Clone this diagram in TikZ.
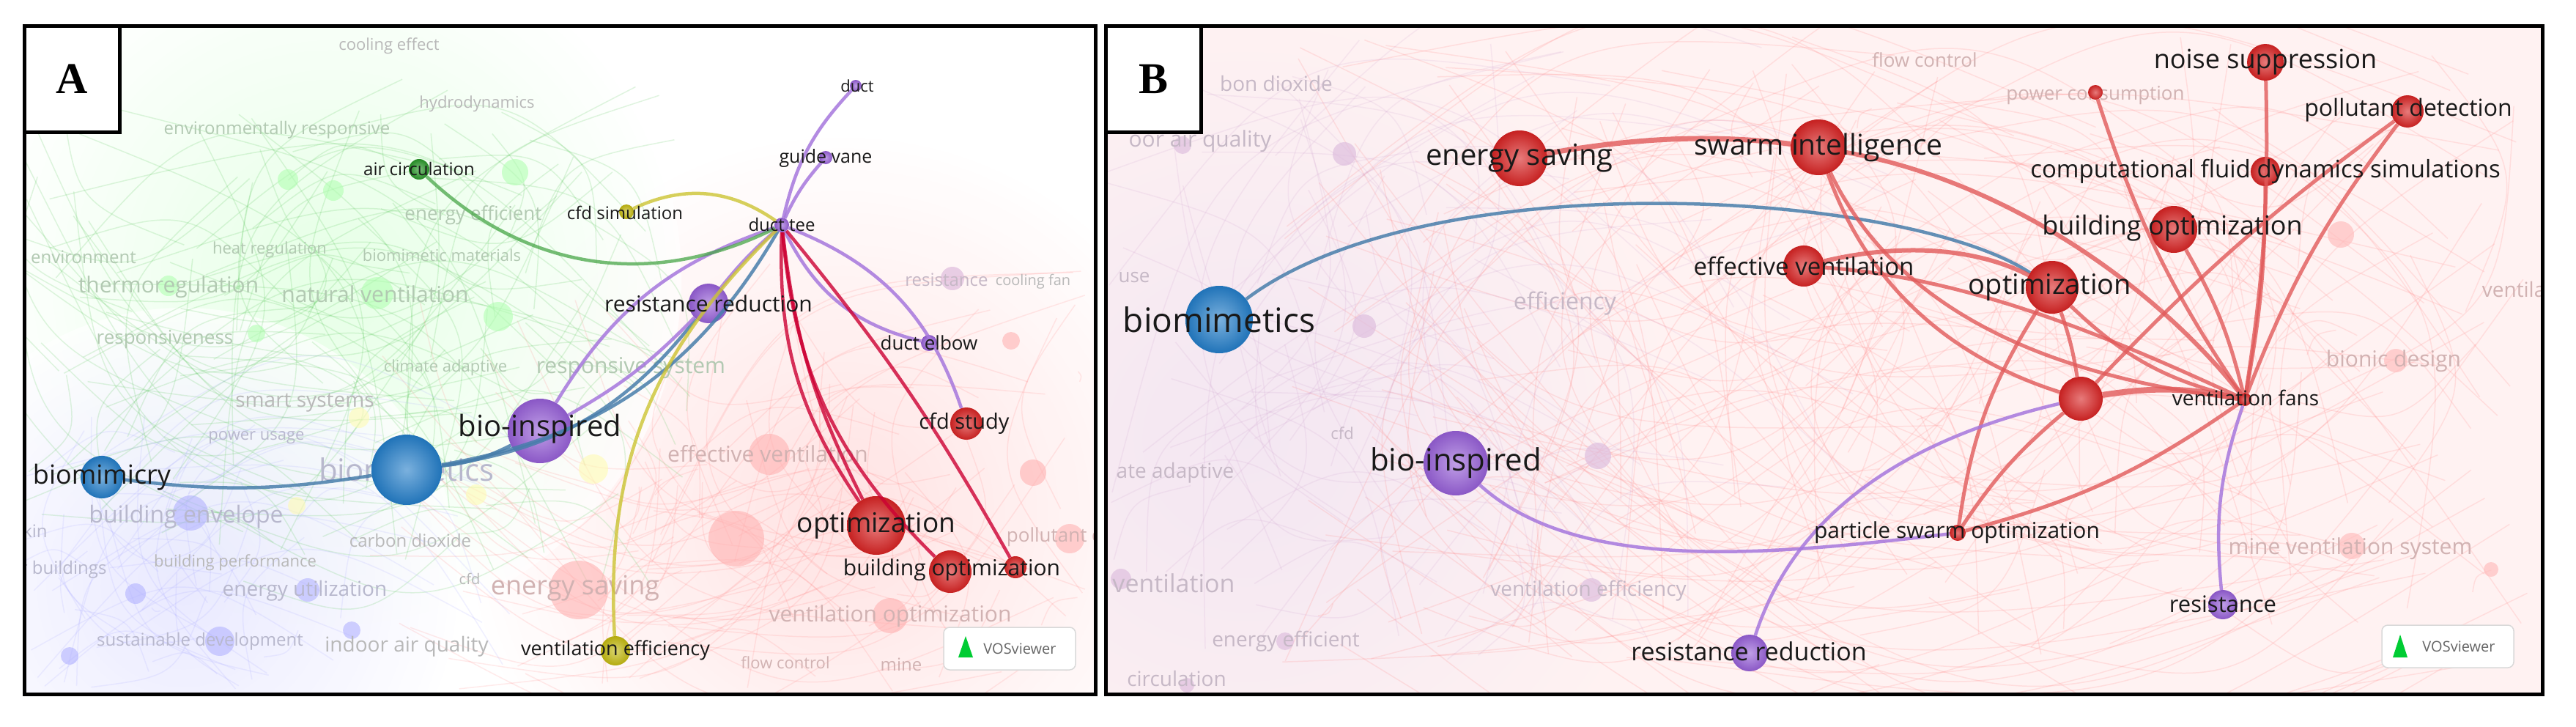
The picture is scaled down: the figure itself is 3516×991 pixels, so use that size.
\documentclass[tikz,border=0pt]{standalone}
\usepackage{fontspec}
\setmainfont{Open Sans}
\newfontfamily\lblserif{Liberation Serif}
\newcommand\lfs[1]{\fontsize{#1}{#1}\selectfont}
\newcommand\bgedge[5]{%
  \pgfmathsetmacro\cxa{(#1+#3)/2+0.3*(#4-#2)}%
  \pgfmathsetmacro\cya{(#2+#4)/2-0.3*(#3-#1)}%
  \draw[#5] (#1,#2) .. controls (\cxa,\cya) .. (#3,#4);}
\definecolor{vred}{RGB}{215,35,35}
\definecolor{vblue}{RGB}{35,125,200}
\definecolor{vpur}{RGB}{150,95,215}
\definecolor{vgreen}{RGB}{40,150,40}
\definecolor{vyel}{RGB}{195,185,15}
\begin{document}
\begin{tikzpicture}[x=1pt,y=-1pt,
  ball/.style={circle,inner sep=0pt,draw=none,inner color=#1!60!white,outer color=#1!92!black},
  lab/.style={inner sep=0pt,text=black!90},
  glab/.style={inner sep=0pt,text=black!28},
  glabg/.style={inner sep=0pt,text=green!30!black!30},
  glabr/.style={inner sep=0pt,text=red!40!black!30},
  glabb/.style={inner sep=0pt,text=blue!30!black!28},
  glabp/.style={inner sep=0pt,text=violet!40!black!28},
  epur/.style={vpur!85,line width=4.5pt,opacity=.85},
  ered/.style={vred!75,line width=5pt,opacity=.8},
  eblue/.style={vblue!60!gray,line width=4.5pt,opacity=.85},
  frame/.style={draw=black,line width=5pt},
  logo/.style={draw=black!15,rounded corners=8pt,line width=1.5pt,fill=white,minimum width=180pt,minimum height=58pt,inner sep=0pt}
]
\useasboundingbox (0,0) rectangle (3516,991);
\fill[white] (0,0) rectangle (3516,991);
\pgfmathsetseed{4242}
%================ PANEL A =================
\begin{scope}
\clip (33,35) rectangle (1495,947);
\shade[inner color=red!14,outer color=white,opacity=.8] (1150,700) circle (520);
\shade[inner color=green!14,outer color=white,opacity=.7] (450,380) circle (480);
\shade[inner color=blue!12,outer color=white,opacity=.7] (250,800) circle (380);
\foreach \i in {1,...,110}{
  \pgfmathsetmacro\xa{450+400*rand}\pgfmathsetmacro\ya{450+300*rand}
  \pgfmathsetmacro\xb{450+500*rand}\pgfmathsetmacro\yb{450+350*rand}
  \bgedge{\xa}{\ya}{\xb}{\yb}{green!50!gray,opacity=.16,line width=1.5pt}}
\foreach \i in {1,...,90}{
  \pgfmathsetmacro\xa{1150+350*rand}\pgfmathsetmacro\ya{720+220*rand}
  \pgfmathsetmacro\xb{1000+500*rand}\pgfmathsetmacro\yb{650+300*rand}
  \bgedge{\xa}{\ya}{\xb}{\yb}{red!50,opacity=.16,line width=1.5pt}}
\foreach \i in {1,...,50}{
  \pgfmathsetmacro\xa{250+220*rand}\pgfmathsetmacro\ya{780+160*rand}
  \pgfmathsetmacro\xb{400+350*rand}\pgfmathsetmacro\yb{750+200*rand}
  \bgedge{\xa}{\ya}{\xb}{\yb}{blue!40,opacity=.14,line width=1.5pt}}
\foreach \x/\y/\r/\c in {703/235/18/green,393/245/14/green,455/260/14/green,515/400/22/green,680/432/20/green,230/390/14/green,350/455/12/green,
  260/700/24/blue,185/810/14/blue,300/875/20/blue,420/805/16/blue,480/860/12/blue,95/895/12/blue,
  1050/620/28/red,1005/735/38/red,790/805/40/red,1215/840/24/red,1410/645/18/red,1460/735/20/red,1380/465/12/red,1300/380/16/violet,
  405/690/12/yellow,490/570/14/yellow,810/640/20/yellow,650/675/14/yellow}
  \fill[\c!30,opacity=.6] (\x,\y) circle (\r);
\node[glab] (ga1) at (531,63) {\lfs{22}cooling effect};
\node[glab] (ga2) at (651,142) {\lfs{22}hydrodynamics};
\node[glabg] (ga3) at (378,177) {\lfs{24}environmentally responsive};
\node[glabg] (ga4) at (646,294) {\lfs{26}energy efficient};
\node[glabg] (ga5) at (114,351) {\lfs{24}environment};
\node[glabg] (ga6) at (368,341) {\lfs{22}heat regulation};
\node[glabg] (ga7) at (603,348) {\lfs{22}biomimetic materials};
\node[glabg] (ga8) at (230,392) {\lfs{30}thermoregulation};
\node[glabg] (ga9) at (512,401) {\lfs{30}natural ventilation};
\node[glabg] (ga10) at (225,463) {\lfs{26}responsiveness};
\node[glabg] (ga11) at (608,502) {\lfs{22}climate adaptive};
\node[glabg] (ga12) at (861,502) {\lfs{30}responsive system};
\node[glab] (ga13) at (416,550) {\lfs{28}smart systems};
\node[glabb] (ga14) at (350,597) {\lfs{22}power usage};
\node[glabr] (ga15) at (1048,619) {\lfs{30}effective ventilation};
\node[glabb] (ga16) at (254,705) {\lfs{32}building envelope};
\node[glab] (ga17) at (560,737) {\lfs{24}carbon dioxide};
\node[glab] (ga18) at (321,768) {\lfs{22}building performance};
\node[glabb] (ga19) at (80,777) {\lfs{24}ar buildings};
\node[glabb] (ga20) at (416,806) {\lfs{28}energy utilization};
\node[glabr] (ga21) at (785,803) {\lfs{36}energy saving};
\node[glab] (ga22) at (641,790) {\lfs{20}cfd};
\node[glabr] (ga23) at (1215,841) {\lfs{30}ventilation optimization};
\node[glabb] (ga24) at (273,875) {\lfs{24}sustainable development};
\node[glab] (ga25) at (555,882) {\lfs{28}indoor air quality};
\node[glabr] (ga26) at (1072,904) {\lfs{22}flow control};
\node[glabr] (ga27) at (1230,907) {\lfs{24}mine};
\node[glabp] (ga28) at (1292,382) {\lfs{24}resistance};
\node[glab] (ga29) at (1410,384) {\lfs{20}cooling fan};
\node[glabr] (ga30) at (1440,733) {\lfs{26}pollutant d};
\node[glabb] (ga31) at (48,724) {\lfs{24}kin};
\node[glabb] (ga32) at (555,641) {\lfs{42}biomimetics};
\node[ball=vblue,minimum size=96pt] (aBiom) at (555,641) {};
\node[ball=vblue,minimum size=58pt] (aBimc) at (139,651) {};
\node[ball=vpur,minimum size=88pt] (aBioI) at (737,588) {};
\node[ball=vpur,minimum size=54pt] (aResR) at (967,414) {};
\node[ball=vpur,minimum size=20pt] (aTee) at (1067,307) {};
\node[ball=vpur,minimum size=16pt] (aDuct) at (1168,117) {};
\node[ball=vpur,minimum size=18pt] (aGuide) at (1127,215) {};
\node[ball=vpur,minimum size=22pt] (aElb) at (1268,468) {};
\node[ball=vgreen,minimum size=28pt] (aAir) at (572,231) {};
\node[ball=vyel,minimum size=20pt] (aCfdS) at (855,289) {};
\node[ball=vred,minimum size=44pt] (aCfdSt) at (1319,578) {};
\node[ball=vred,minimum size=80pt] (aOpt) at (1196,717) {};
\node[ball=vred,minimum size=58pt] (aBOpt) at (1297,780) {};
\node[ball=vred,minimum size=30pt] (aBOpt2) at (1386,774) {};
\node[ball=vyel,minimum size=40pt] (aVEff) at (840,888) {};
\draw[eblue] (aBimc) to[bend right=8] (aBiom);
\draw[eblue] (aBiom) to[bend right=10] (aBioI);
\draw[eblue] (aBiom) to[bend right=22] (aResR);
\draw[eblue] (aBiom) to[bend right=25] (aTee);
\draw[epur] (aBioI) to[bend left=20] (aTee);
\draw[epur] (aBioI) to[bend right=8] (aResR);
\draw[epur] (aResR) to[bend left=5] (aTee);
\draw[vgreen!85,line width=4.5pt,opacity=.75] (aAir) to[bend right=35] (aTee);
\draw[vyel!85,line width=4.5pt,opacity=.8] (aCfdS) to[bend left=30] (aTee);
\draw[vyel!85,line width=4.5pt,opacity=.8] (aVEff) .. controls (825,620) and (900,470) .. (aTee);
\draw[epur] (aTee) to[bend left=15] (aDuct);
\draw[epur] (aTee) to[bend left=8] (aGuide);
\draw[epur] (aTee) to[bend right=25] (aElb);
\draw[epur] (aTee) to[bend left=25] (aCfdSt);
\draw[red!60!violet,line width=4.5pt,opacity=.8] (aTee) to[bend right=18] (aOpt);
\draw[red!60!violet,line width=4.5pt,opacity=.8] (aTee) to[bend right=10] (aOpt);
\draw[red!60!violet,line width=4.5pt,opacity=.8] (aTee) to[bend right=20] (aBOpt);
\draw[red!60!violet,line width=4.5pt,opacity=.8] (aTee) to[bend left=5] (aBOpt2);
\node[lab] (laBimc) at (139,651) {\lfs{36}biomimicry};
\node[lab] (laBioI) at (737,585) {\lfs{40}bio-inspired};
\node[lab] (laResR) at (967,414) {\lfs{30}resistance reduction};
\node[lab] (laTee) at (1067,306) {\lfs{24}duct tee};
\node[lab] (laDuct) at (1170,117) {\lfs{22}duct};
\node[lab] (laGuide) at (1127,216) {\lfs{25}guide vane};
\node[lab] (laElb) at (1268,468) {\lfs{26}duct elbow};
\node[lab] (laAir) at (572,230) {\lfs{24}air circulation};
\node[lab] (laCfdS) at (853,290) {\lfs{24}cfd simulation};
\node[lab] (laCfdSt) at (1316,578) {\lfs{29}cfd study};
\node[lab] (laOpt) at (1196,717) {\lfs{37}optimization};
\node[lab] (laBOpt) at (1299,778) {\lfs{30}building optimization};
\node[lab] (laVEff) at (840,887) {\lfs{27}ventilation efficiency};
\node[logo] (logoA) at (1378,885) {};
\fill[green!60!teal] (1308,897) -- (1318,868) -- (1328,897) -- cycle;
\node[inner sep=0pt,text=black!60] (logoAt) at (1392,885) {\lfs{20}VOSviewer};
\end{scope}
\draw[frame] (33,35) rectangle (1495,947);
\draw[frame,fill=white] (33,35) rectangle (163,180);
\node[inner sep=0pt] (labA) at (98,108) {\lblserif\bfseries\lfs{60}A};
%================ PANEL B =================
\begin{scope}
\clip (1509,35) rectangle (3470,947);
\fill[red!5] (1509,35) rectangle (3470,947);
\shade[inner color=violet!10,outer color=red!5,opacity=.9] (1700,600) circle (600);
\foreach \i in {1,...,200}{
  \pgfmathsetmacro\xa{2600+850*rand}\pgfmathsetmacro\ya{480+430*rand}
  \pgfmathsetmacro\xb{2600+850*rand}\pgfmathsetmacro\yb{480+430*rand}
  \bgedge{\xa}{\ya}{\xb}{\yb}{red!45,opacity=.2,line width=1.5pt}}
\foreach \i in {1,...,70}{
  \pgfmathsetmacro\xa{1800+300*rand}\pgfmathsetmacro\ya{480+430*rand}
  \pgfmathsetmacro\xb{2100+500*rand}\pgfmathsetmacro\yb{480+430*rand}
  \bgedge{\xa}{\ya}{\xb}{\yb}{violet!40,opacity=.15,line width=1.5pt}}
\foreach \x/\y/\r/\c in {1835/210/16/violet,1614/198/12/violet,1862/445/16/violet,2181/622/18/violet,1530/790/14/violet,2172/805/16/violet,1754/875/12/violet,
  3195/320/18/red,3270/492/16/red,3210/745/18/red,3400/777/10/red,1620/935/10/violet}
  \fill[\c!25,opacity=.7] (\x,\y) circle (\r);
\node[glabp] (gb1) at (1742,114) {\lfs{28}bon dioxide};
\node[glabr] (gb2) at (2627,82) {\lfs{26}flow control};
\node[glabr] (gb3) at (2860,130) {\lfs{26}power consumption};
\node[glabp] (gb4) at (1638,193) {\lfs{30}oor air quality};
\node[glabp] (gb5) at (1548,379) {\lfs{26}use};
\node[glabp] (gb6) at (2136,414) {\lfs{32}efficiency};
\node[glabr] (gb7) at (3436,395) {\lfs{28}ventilat};
\node[glabr] (gb8) at (3267,493) {\lfs{30}bionic design};
\node[glabp] (gb9) at (1832,591) {\lfs{22}cfd};
\node[glabp] (gb10) at (1604,645) {\lfs{28}ate adaptive};
\node[glabr] (gb11) at (3208,749) {\lfs{30}mine ventilation system};
\node[glabp] (gb12) at (1602,796) {\lfs{34}ventilation};
\node[glabp] (gb13) at (2168,806) {\lfs{28}ventilation efficiency};
\node[glabp] (gb14) at (1755,875) {\lfs{28}energy efficient};
\node[glabp] (gb15) at (1606,926) {\lfs{28}circulation};
\node[ball=vblue,minimum size=92pt] (bBiom) at (1664,436) {};
\node[ball=vpur,minimum size=88pt] (bBioI) at (1987,632) {};
\node[ball=vred,minimum size=76pt] (bES) at (2074,216) {};
\node[ball=vred,minimum size=76pt] (bSI) at (2482,201) {};
\node[ball=vred,minimum size=56pt] (bEV) at (2462,363) {};
\node[ball=vred,minimum size=72pt] (bOpt) at (2801,392) {};
\node[ball=vred,minimum size=64pt] (bBO) at (2967,313) {};
\node[ball=vred,minimum size=40pt] (bCFD) at (3092,234) {};
\node[ball=vred,minimum size=50pt] (bNS) at (3092,85) {};
\node[ball=vred,minimum size=44pt] (bPD) at (3286,152) {};
\node[ball=vred,minimum size=20pt] (bPC) at (2860,126) {};
\node[ball=vred,minimum size=60pt] (bBig) at (2840,544) {};
\node[ball=vred,minimum size=18pt] (bVF) at (3064,545) {};
\node[ball=vred,minimum size=22pt] (bPSO) at (2672,727) {};
\node[ball=vpur,minimum size=40pt] (bRes) at (3034,825) {};
\node[ball=vpur,minimum size=50pt] (bRR) at (2388,891) {};
\draw[eblue] (bBiom) .. controls (1950,220) and (2600,260) .. (bOpt);
\draw[ered,line width=7pt] (bES) .. controls (2250,185) and (2350,185) .. (bSI);
\draw[ered,line width=6pt] (bSI) .. controls (2750,250) and (2950,400) .. (bVF);
\draw[ered] (bSI) .. controls (2560,420) and (2700,500) .. (bBig);
\draw[ered] (bSI) .. controls (2600,450) and (2850,520) .. (bVF);
\draw[ered,line width=6pt] (bEV) .. controls (2600,330) and (2700,340) .. (bOpt);
\draw[ered] (bEV) .. controls (2700,380) and (2900,470) .. (bVF);
\draw[ered] (bOpt) to[bend right=15] (bVF);
\draw[ered] (bOpt) to[bend left=5] (bBig);
\draw[ered] (bBO) to[bend left=8] (bVF);
\draw[ered] (bCFD) to[bend left=5] (bVF);
\draw[ered] (bNS) to[bend left=5] (bVF);
\draw[ered] (bPD) to[bend right=8] (bVF);
\draw[ered] (bPD) to[bend right=5] (bBig);
\draw[ered] (bPC) to[bend right=8] (bVF);
\draw[ered,line width=8pt] (bBig) to[bend left=10] (bVF);
\draw[ered] (bPSO) to[bend left=8] (bBig);
\draw[ered] (bPSO) to[bend right=10] (bVF);
\draw[ered] (bPSO) to[bend left=12] (bOpt);
\draw[epur] (bBioI) .. controls (2150,780) and (2400,760) .. (bPSO);
\draw[epur] (bRR) .. controls (2450,700) and (2600,600) .. (bBig);
\draw[epur] (bRes) to[bend left=12] (bVF);
\node[lab] (lbBiom) at (1664,436) {\lfs{46}biomimetics};
\node[lab] (lbBioI) at (1987,632) {\lfs{42}bio-inspired};
\node[lab] (lbES) at (2074,216) {\lfs{40}energy saving};
\node[lab] (lbSI) at (2482,201) {\lfs{39}swarm intelligence};
\node[lab] (lbEV) at (2462,363) {\lfs{33}effective ventilation};
\node[lab] (lbOpt) at (2798,392) {\lfs{38}optimization};
\node[lab] (lbBO) at (2965,311) {\lfs{36}building optimization};
\node[lab] (lbCFD) at (3092,234) {\lfs{33}computational fluid dynamics simulations};
\node[lab] (lbNS) at (3092,85) {\lfs{36}noise suppression};
\node[lab] (lbPD) at (3287,150) {\lfs{32}pollutant detection};
\node[lab] (lbVF) at (3065,543) {\lfs{28}ventilation fans};
\node[lab] (lbPSO) at (2671,727) {\lfs{30}particle swarm optimization};
\node[lab] (lbRes) at (3034,824) {\lfs{31}resistance};
\node[lab] (lbRR) at (2387,889) {\lfs{34}resistance reduction};
\node[logo] (logoB) at (3341,882) {};
\fill[green!60!teal] (3266,897) -- (3276,866) -- (3286,897) -- cycle;
\node[inner sep=0pt,text=black!60] (logoBt) at (3356,882) {\lfs{20}VOSviewer};
\end{scope}
\draw[frame] (1509,35) rectangle (3470,947);
\draw[frame,fill=white] (1509,35) rectangle (1639,180);
\node[inner sep=0pt] (labB) at (1574,108) {\lblserif\bfseries\lfs{60}B};
\end{tikzpicture}
\end{document}
